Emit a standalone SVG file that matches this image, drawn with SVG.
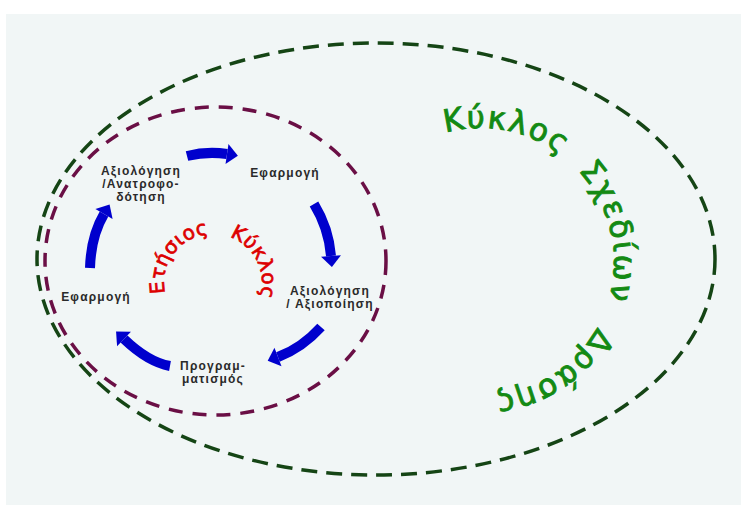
<svg xmlns="http://www.w3.org/2000/svg" xmlns:xlink="http://www.w3.org/1999/xlink" width="741" height="505" viewBox="0 0 741 505">
  <style>
    .lbl { font-family: "Liberation Sans", Arial, sans-serif; font-weight: bold; font-size: 12px; fill: #2a2a2a; text-anchor: middle; letter-spacing: 1.2px; }
    .arrow { fill: none; stroke: #0000cd; stroke-width: 10; stroke-linecap: butt; marker-end: url(#head); }
    .outer { fill: none; stroke: #154515; stroke-width: 3.5; stroke-dasharray: 16 9; }
    .inner { fill: none; stroke: #6a0f45; stroke-width: 3.5; stroke-dasharray: 14 10; }
    .green { font-family: "DejaVu Sans", "Noto Sans", sans-serif; font-size: 31px; fill: #138a13; stroke: #138a13; stroke-width: 0.9; letter-spacing: 1.8px; }
    .red { font-family: "DejaVu Sans", "Noto Sans", sans-serif; font-size: 20px; fill: #dd0000; stroke: #dd0000; stroke-width: 0.7; letter-spacing: 0.3px; }
  </style>
  <defs>
    <marker id="head" markerUnits="strokeWidth" markerWidth="1.2" markerHeight="2.2" refX="0" refY="0" viewBox="0 -1.1 1.2 2.2" orient="auto" overflow="visible">
      <path d="M0,-1 L1.1,0 L0,1 Z" fill="#0000cd"/>
    </marker>
    <path id="greenPath" d="M434.2,136.1 A134,134 0 1 1 480,396"/>
    <path id="redPath" d="M167,299.8 A49,49 0 1 1 255.4,307.5"/>
  </defs>

  <rect x="6" y="14" width="735" height="491" fill="#f1f6f6"/>

  <g id="cycles">
    <ellipse id="outer-cycle" class="outer" cx="376" cy="259" rx="339" ry="216"/>
    <ellipse id="inner-cycle" class="inner" cx="215.5" cy="261" rx="170.5" ry="154"/>
  </g>

  <g id="titles">
    <text class="green"><textPath xlink:href="#greenPath" startOffset="11.7">Κύκλος</textPath></text>
    <text class="green"><textPath xlink:href="#greenPath" startOffset="156.7">Σχεδίων</textPath></text>
    <text class="green"><textPath xlink:href="#greenPath" startOffset="325">Δράσης</textPath></text>
    <text class="red"><textPath xlink:href="#redPath" startOffset="6.8">Ετήσιος</textPath></text>
    <text class="red"><textPath xlink:href="#redPath" startOffset="111">Κύκλος</textPath></text>
  </g>

  <g id="connectors">
    <path class="arrow" d="M187,156 Q207,151 227,154"/>
    <path class="arrow" d="M314,204 A118,118 0 0 1 331,256"/>
    <path class="arrow" d="M321,327 Q302,348 278,357"/>
    <path class="arrow" d="M170,366 Q148,362 124,339"/>
    <path class="arrow" d="M90,268 Q91,236 104,214"/>
  </g>

  <g id="node-feedback">
    <text class="lbl" x="141" y="175">Αξιολόγηση</text>
    <text class="lbl" x="141" y="188">/Ανατροφο-</text>
    <text class="lbl" x="141" y="201">δότηση</text>
  </g>
  <g id="node-apply-top">
    <text class="lbl" x="285" y="177">Εφαρμογή</text>
  </g>
  <g id="node-evaluation">
    <text class="lbl" x="330" y="295">Αξιολόγηση</text>
    <text class="lbl" x="330" y="308">/ Αξιοποίηση</text>
  </g>
  <g id="node-planning">
    <text class="lbl" x="213" y="370">Προγραμ-</text>
    <text class="lbl" x="213" y="383">ματισμός</text>
  </g>
  <g id="node-apply-left">
    <text class="lbl" x="96" y="301">Εφαρμογή</text>
  </g>
</svg>
